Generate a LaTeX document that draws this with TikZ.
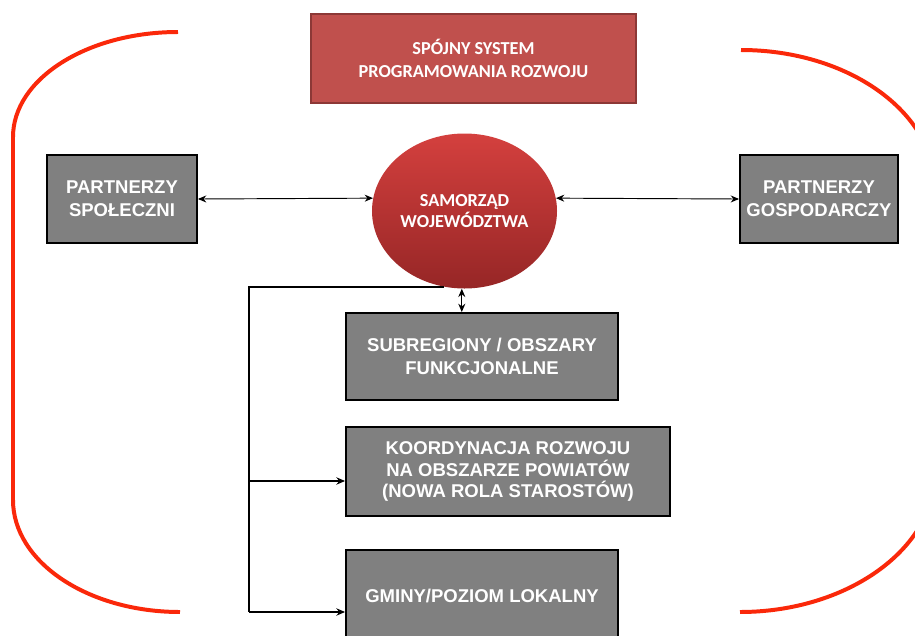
\documentclass[tikz,border=0pt]{standalone}
\usepackage{fontspec}
\setmainfont{Liberation Sans}
\newfontfamily\carlito{Carlito}
\usetikzlibrary{arrows.meta,shapes.geometric}

\definecolor{boxgray}{HTML}{808080}
\definecolor{topred}{HTML}{C0504D}
\definecolor{topredline}{HTML}{8C3836}
\definecolor{ringred}{RGB}{250,40,10}
\definecolor{samtop}{RGB}{212,64,62}
\definecolor{sambot}{RGB}{150,38,38}

\begin{document}
\begin{tikzpicture}[x=0.03cm,y=-0.03cm,
    graybox/.style={draw=black,line width=1.6pt,fill=boxgray,text=white,
        font=\fontsize{15.8}{19.5}\selectfont\bfseries,align=center,inner sep=0pt},
    link/.style={line width=0.8pt,{Stealth[length=2.5mm,width=2.1mm]}-{Stealth[length=2.5mm,width=2.1mm]}},
    bus/.style={line width=1.3pt},
    tip/.style={-{Stealth[length=2.6mm,width=2.2mm]}},
    bracket/.style={draw=ringred,line width=3.4pt}]
    \useasboundingbox (0,0) rectangle (915,635);

    % Red brackets
    \draw[bracket] (178,32) .. controls (87,32) and (13,79) .. (13,137)
        -- (13,500) .. controls (13,562) and (88,612) .. (180,612);
    \draw[bracket] (741,50) .. controls (848,50) and (935,112) .. (935,188)
        -- (935,473) .. controls (935,549) and (847,612) .. (740,612);

    % Top title
    \node[draw=topredline,line width=2.2pt,fill=topred,text=white,
        minimum width=9.75cm,minimum height=2.67cm,inner sep=0pt,align=center,
        font=\carlito\fontsize{15.6}{19.5}\selectfont\bfseries]
        (sps) at (473.5,58.5) {SPÓJNY SYSTEM\\PROGRAMOWANIA ROZWOJU};

    % Centre
    \node[ellipse,top color=samtop,bottom color=sambot,
        minimum width=5.55cm,minimum height=4.65cm,inner sep=0pt,align=center,
        text=white,font=\carlito\fontsize{15.6}{19}\selectfont\bfseries]
        (sam) at (464.5,211) {SAMORZĄD\\[-1pt]WOJEWÓDZTWA};

    % Partners
    \node[graybox,minimum width=4.5cm,minimum height=2.64cm] (lef) at (122,199)
        {PARTNERZY\\SPOŁECZNI};
    \node[graybox,minimum width=4.74cm,minimum height=2.64cm] (rig) at (819,199)
        {PARTNERZY\\GOSPODARCZY};

    % Lower levels
    \node[graybox,minimum width=8.16cm,minimum height=2.61cm] (sub) at (482,356.5)
        {SUBREGIONY / OBSZARY\\FUNKCJONALNE};
    \node[graybox,minimum width=9.72cm,minimum height=2.67cm,
        font=\fontsize{15.8}{18.5}\selectfont\bfseries] (koo) at (508,471.5)
        {KOORDYNACJA ROZWOJU\\NA OBSZARZE POWIATÓW\\(NOWA ROLA STAROSTÓW)};
    \node[graybox,minimum width=8.16cm,minimum height=2.76cm] (gmi) at (482,596)
        {GMINY/POZIOM LOKALNY};

    % Connectors
    \draw[link] (lef.east) -- (sam.172);
    \draw[link] (sam.8) -- (rig.west);
    \draw[link,line width=1.2pt] (sam.-92) -- (sam.-92 |- sub.north);

    \coordinate (kbr) at (249,481);
    \coordinate (gbr) at (249,612);
    \draw[bus] (sam.-105) -| (gbr);
    \draw[bus,tip] (kbr) -- (kbr -| koo.west);
    \draw[bus,tip] (gbr) -- (gbr -| gmi.west);
\end{tikzpicture}
\end{document}
